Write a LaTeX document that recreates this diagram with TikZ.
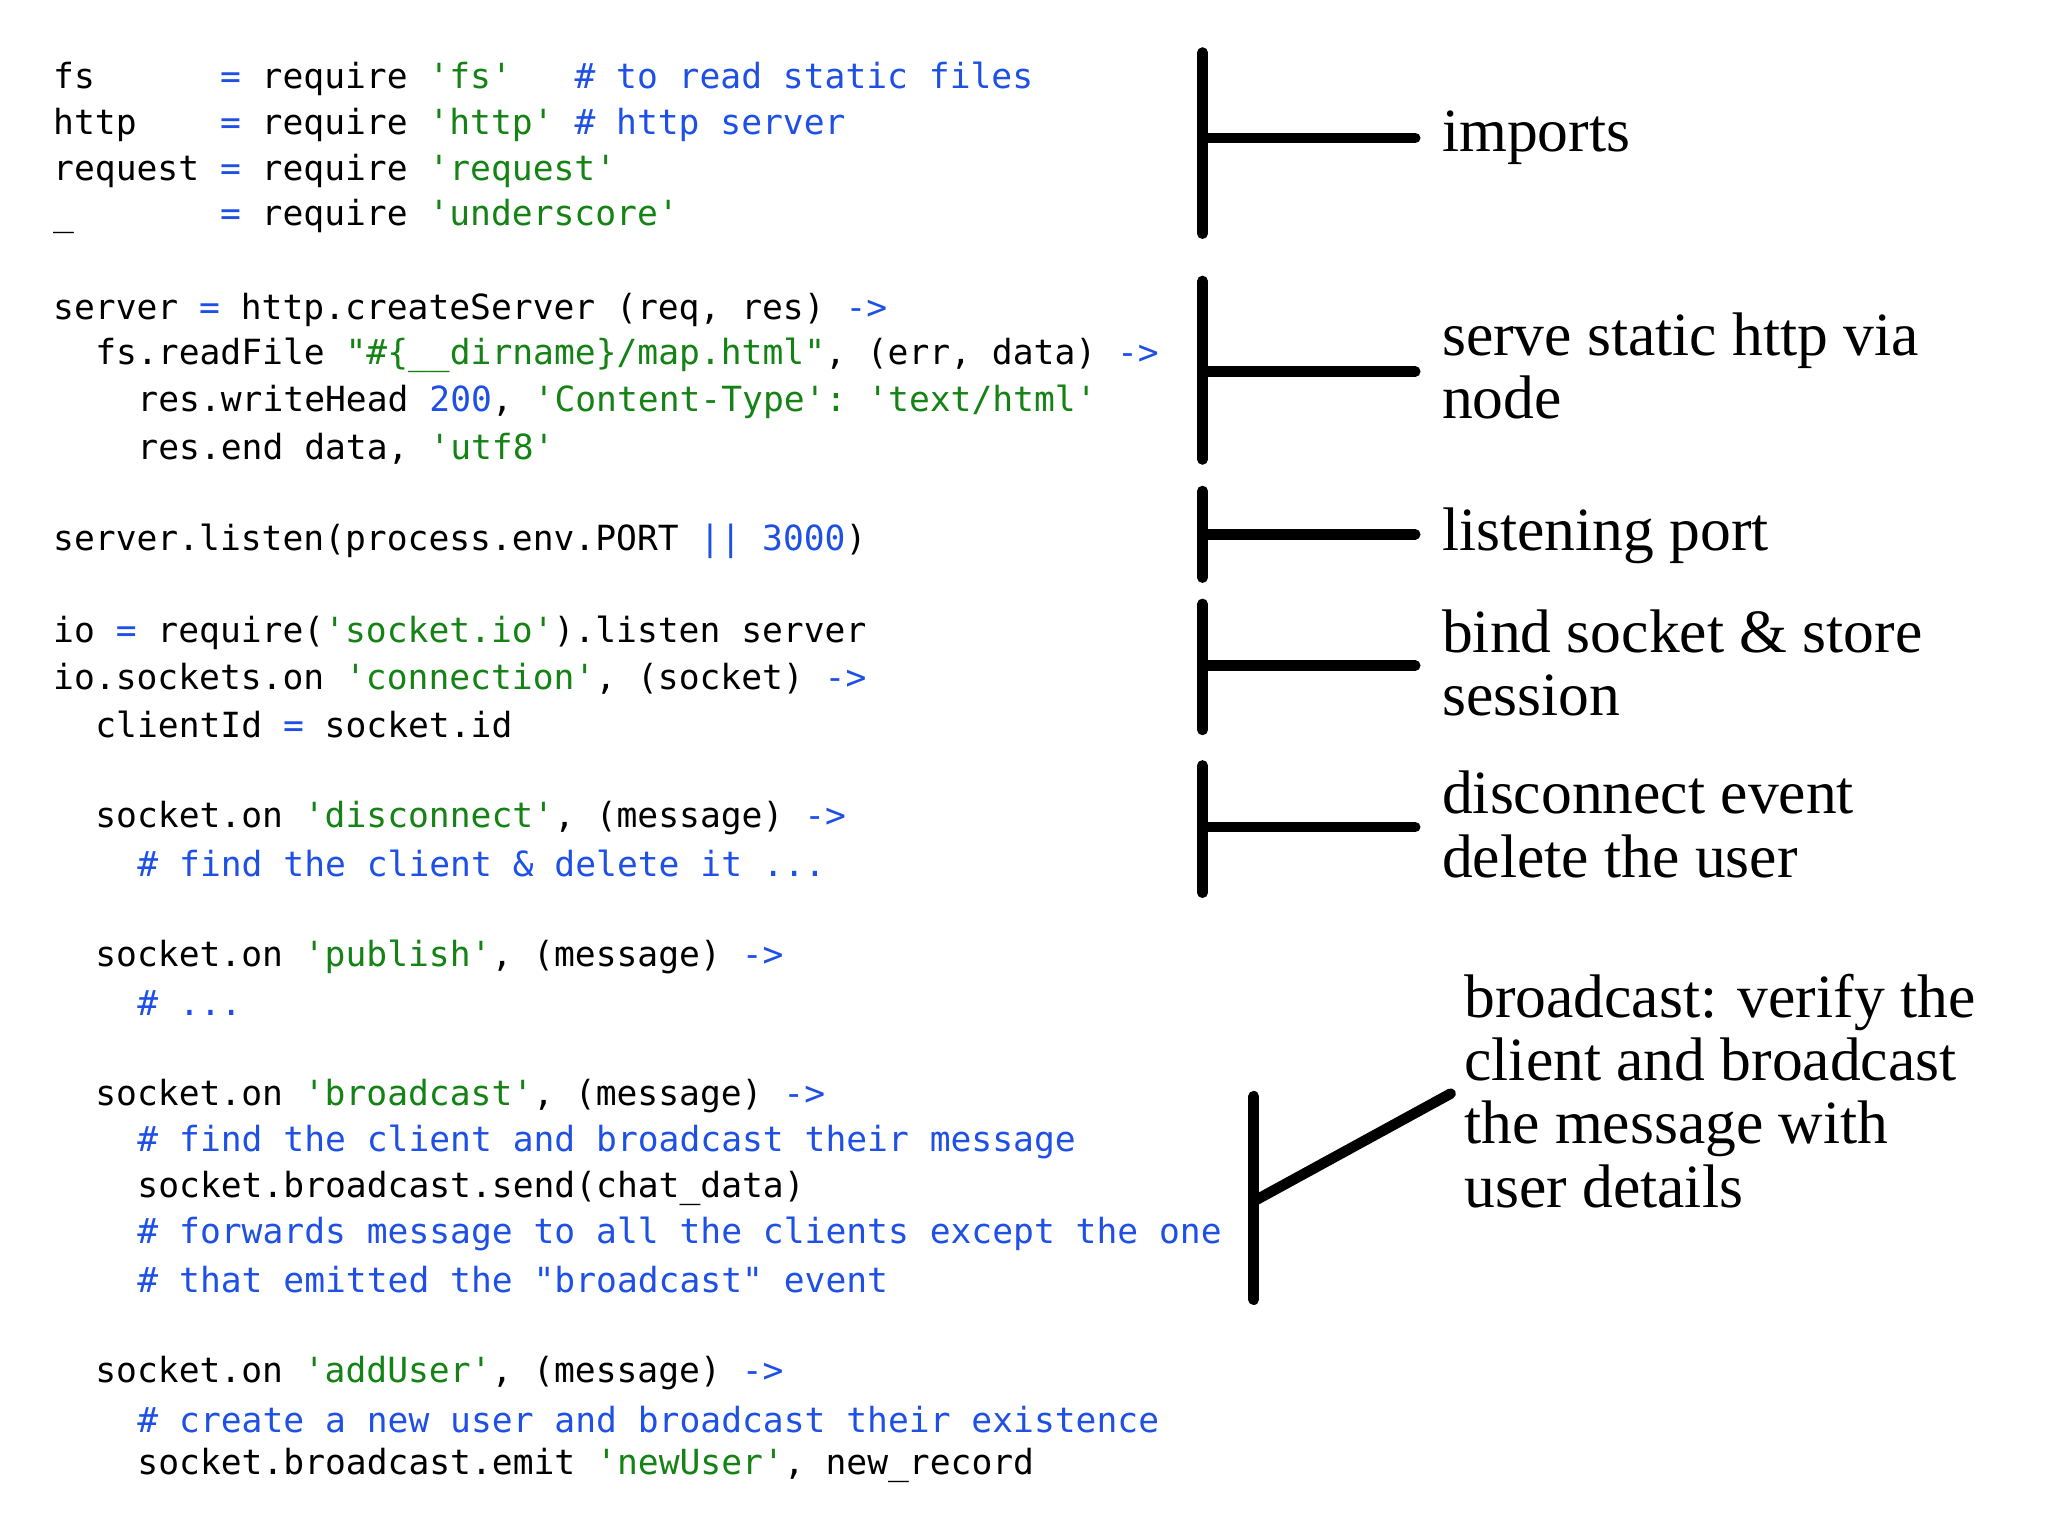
\documentclass[tikz,border=0pt]{standalone}
\usepackage{fontspec}
\setmonofont{DejaVu Sans Mono}
\newfontfamily\notefont{Liberation Serif}
\definecolor{qsgreen}{RGB}{20,130,20}
\definecolor{kwblue}{RGB}{30,80,230}
\newcommand{\qs}[1]{\textcolor{qsgreen}{#1}}
\newcommand{\kw}[1]{\textcolor{kwblue}{#1}}
\tikzset{
  code/.style={anchor=west,inner sep=0pt,font=\ttfamily\fontsize{9.85}{12}\selectfont},
  note/.style={anchor=west,inner sep=0pt,align=left,font=\notefont\fontsize{17.5}{18}\selectfont},
  bracket/.style={line width=3pt,black,line cap=round}
}
\begin{document}
\begin{tikzpicture}[x=0.01313cm,y=-0.01313cm]
\useasboundingbox (0,0) rectangle (1560,1170);

% code column
\node (c0)  at (40,60)    [code] {fs~~~~~~\kw{=}~require~\qs{'fs'}~~~\kw{\# to read static files}};
\node (c1)  at (40,95)    [code] {http~~~~\kw{=}~require~\qs{'http'}~\kw{\# http server}};
\node (c2)  at (40,130)   [code] {request~\kw{=}~require~\qs{'request'}};
\node (c3)  at (40,165)   [code] {\_~~~~~~~\kw{=}~require~\qs{'underscore'}};
\node (c5)  at (40,236)   [code] {server~\kw{=}~http.createServer~(req,~res)~\kw{->}};
\node (c6)  at (72.1,271) [code] {fs.readFile~\qs{"\#\{\_\_dirname\}/map.html"},~(err,~data)~\kw{->}};
\node (c7)  at (104.2,306)[code] {res.writeHead~\kw{200},~\qs{'Content-Type':}~\qs{'text/html'}};
\node (c8)  at (104.2,342)[code] {res.end~data,~\qs{'utf8'}};
\node (c10) at (40,412)   [code] {server.listen(process.env.PORT~\kw{||}~\kw{3000})};
\node (c12) at (40,482)   [code] {io~\kw{=}~require(\qs{'socket.io'}).listen~server};
\node (c13) at (40,517)   [code] {io.sockets.on~\qs{'connection'},~(socket)~\kw{->}};
\node (c14) at (72.1,552) [code] {clientId~\kw{=}~socket.id};
\node (c16) at (72.1,623) [code] {socket.on~\qs{'disconnect'},~(message)~\kw{->}};
\node (c17) at (104.2,658)[code] {\kw{\#~find~the~client~\&~delete~it~...}};
\node (c19) at (72.1,729) [code] {socket.on~\qs{'publish'},~(message)~\kw{->}};
\node (c20) at (104.2,764)[code] {\kw{\#~...}};
\node (c22) at (72.1,835) [code] {socket.on~\qs{'broadcast'},~(message)~\kw{->}};
\node (c23) at (104.2,870)[code] {\kw{\#~find~the~client~and~broadcast~their~message}};
\node (c24) at (104.2,905)[code] {socket.broadcast.send(chat\_data)};
\node (c25) at (104.2,940)[code] {\kw{\#~forwards~message~to~all~the~clients~except~the~one}};
\node (c26) at (104.2,975)[code] {\kw{\#~that~emitted~the~"broadcast"~event}};
\node (c28) at (72.1,1046)[code] {socket.on~\qs{'addUser'},~(message)~\kw{->}};
\node (c29) at (104.2,1081)[code] {\kw{\#~create~a~new~user~and~broadcast~their~existence}};
\node (c30) at (104.2,1116)[code] {socket.broadcast.emit~\qs{'newUser'},~new\_record};

% notes
\node (imports) at (1098,105) [note] {imports};
\node (serve)   at (1098,279) [note] {serve static http via\\node};
\node (listen)  at (1098,408) [note] {listening port};
\node (bind)    at (1098,505) [note] {bind socket \& store\\session};
\node (disc)    at (1098,628) [note] {disconnect event\\delete the user};
\node (bcast)   at (1115,831) [note] {broadcast: verify the\\client and broadcast\\the message with\\user details};

% brackets
\coordinate (i0) at (916,40);  \coordinate (i1) at (916,178); \coordinate (iv) at (916,105);
\coordinate (s0) at (916,214); \coordinate (s1) at (916,350); \coordinate (sv) at (916,283);
\coordinate (l0) at (916,374); \coordinate (l1) at (916,440); \coordinate (lv) at (916,407);
\coordinate (b0) at (916,460); \coordinate (b1) at (916,556); \coordinate (bv) at (916,507);
\coordinate (d0) at (916,583); \coordinate (d1) at (916,680); \coordinate (dv) at (916,630);
\coordinate (r0) at (955,835); \coordinate (r1) at (955,990); \coordinate (rv) at (955,915);
\coordinate (ih) at (1078,105); \coordinate (sh) at (1078,283); \coordinate (lh) at (1078,407);
\coordinate (bh) at (1078,507); \coordinate (dh) at (1078,630); \coordinate (rh) at (1105,833);

\draw[bracket] (i0) -- (i1); \draw[bracket] (iv) -- (ih);
\draw[bracket] (s0) -- (s1); \draw[bracket] (sv) -- (sh);
\draw[bracket] (l0) -- (l1); \draw[bracket] (lv) -- (lh);
\draw[bracket] (b0) -- (b1); \draw[bracket] (bv) -- (bh);
\draw[bracket] (d0) -- (d1); \draw[bracket] (dv) -- (dh);
\draw[bracket] (r0) -- (r1); \draw[bracket] (rv) -- (rh);
\end{tikzpicture}
\end{document}
